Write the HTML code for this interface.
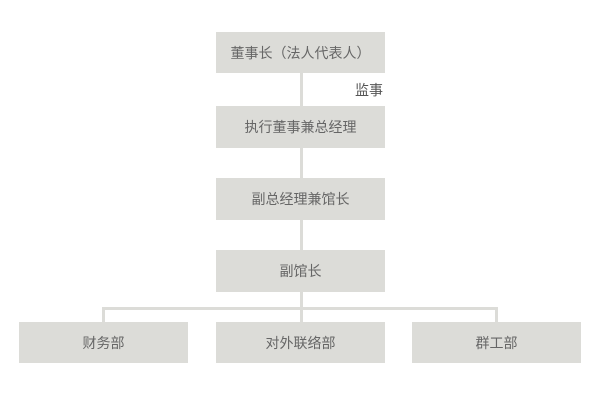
<!DOCTYPE html>
<html><head><meta charset="utf-8"><style>
html,body{margin:0;padding:0;background:#fff;}
body{width:600px;height:400px;position:relative;overflow:hidden;font-family:"Liberation Sans","Noto Sans CJK SC","WenQuanYi Zen Hei",sans-serif;}
.b{position:absolute;background:#dcdcd8;color:#666;font-size:14px;display:flex;align-items:center;justify-content:center;}
.l{position:absolute;background:#dcdcd8;}
</style></head><body>
<div class="l" style="left:300px;top:72px;width:3px;height:250px"></div>
<div class="l" style="left:102px;top:307px;width:396px;height:3px"></div>
<div class="l" style="left:102px;top:307px;width:3px;height:15px"></div>
<div class="l" style="left:495px;top:307px;width:3px;height:15px"></div>
<div class="b" style="left:216px;top:32px;width:169px;height:41px">董事长（法人代表人）</div>
<div style="position:absolute;left:355px;top:80px;font-size:14px;color:#555">监事</div>
<div class="b" style="left:216px;top:106px;width:169px;height:42px">执行董事兼总经理</div>
<div class="b" style="left:216px;top:178px;width:169px;height:42px">副总经理兼馆长</div>
<div class="b" style="left:216px;top:250px;width:169px;height:42px">副馆长</div>
<div class="b" style="left:19px;top:322px;width:169px;height:41px">财务部</div>
<div class="b" style="left:216px;top:322px;width:169px;height:41px">对外联络部</div>
<div class="b" style="left:412px;top:322px;width:169px;height:41px">群工部</div>
</body></html>
